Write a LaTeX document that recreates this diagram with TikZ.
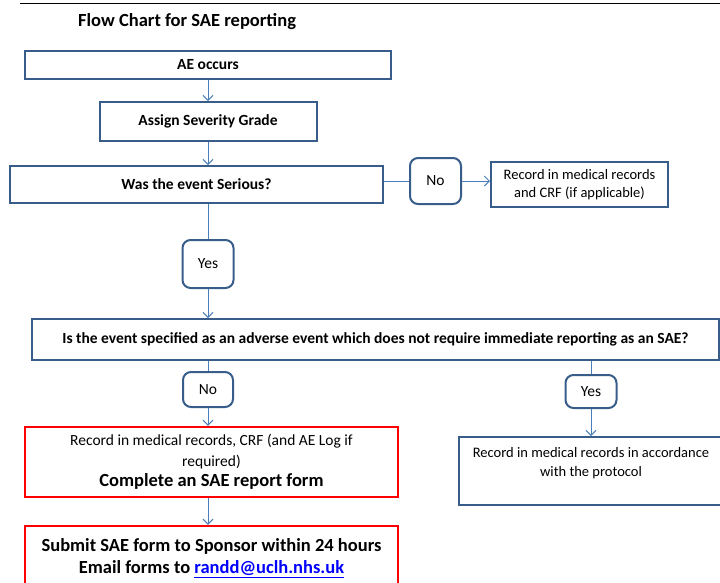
\documentclass[tikz,border=0pt]{standalone}
\usepackage{fontspec}
\setmainfont{Carlito}
\usepackage{tikz}
\usetikzlibrary{arrows.meta, positioning, calc}
\usepackage{xcolor}
\definecolor{boxblue}{RGB}{56,93,138}
\definecolor{lineblue}{RGB}{74,126,187}
\definecolor{alertred}{RGB}{255,0,0}
\definecolor{linkblue}{RGB}{0,0,255}

\begin{document}
\begin{tikzpicture}[x=1pt, y=-1pt,
  box/.style={draw=boxblue, line width=2pt, inner sep=0pt, align=center,
    font=\bfseries\fontsize{15.5}{18}\selectfont},
  plainbox/.style={box, font=\fontsize{14.5}{18.5}\selectfont},
  choice/.style={draw=boxblue, line width=2pt, rounded corners=8pt, inner sep=0pt,
    font=\fontsize{15.5}{18}\selectfont},
  redbox/.style={draw=alertred, line width=2.5pt, inner sep=0pt, align=center,
    font=\fontsize{15.5}{20.5}\selectfont},
  plain/.style={draw=lineblue, line width=1pt},
  flow/.style={plain, -{Straight Barb[length=5pt, width=10pt]}}]
  \useasboundingbox (0,0) rectangle (720,582);
  \draw[line width=1pt] (20,3) -- (720,3);
  \node[anchor=west, inner sep=0pt, font=\bfseries\fontsize{18.5}{22}\selectfont] (title) at (78,22)
    {Flow Chart for SAE reporting};
  % first steps
  \node[box, minimum width=366, minimum height=28] (ae) at (208,65) {AE occurs};
  \node[box, minimum width=217, minimum height=39] (grade) at (208,121.5) {Assign Severity Grade};
  \node[box, minimum width=373, minimum height=37] (serious) at (196.5,184.5) {Was the event Serious?};
  % not serious
  \node[choice, minimum width=51, minimum height=46] (no1) at (435.5,181) {No};
  \node[plainbox, minimum width=177, minimum height=45] (crf) at (579.5,184.5)
    {Record in medical records\\and CRF (if applicable)};
  % serious
  \node[choice, minimum width=51, minimum height=48] (yes1) at (208,264) {Yes};
  \node[box, minimum width=687, minimum height=41] (sae) at (375.5,339.5)
    {Is the event specified as an adverse event which does not require immediate reporting as an SAE?};
  \node[choice, minimum width=50, minimum height=35] (no2) at (208,389.5) {No};
  \node[choice, minimum width=51, minimum height=33] (yes2) at (591,391.5) {Yes};
  % report needed
  \node[redbox, minimum width=373, minimum height=70] (report) at (211.5,462)
    {Record in medical records, CRF (and AE Log if\\required)\\
     {\bfseries\fontsize{18.5}{20.5}\selectfont Complete an SAE report form}};
  \node[plainbox, minimum width=264, minimum height=68] (protocol) at (591,471)
    {Record in medical records in accordance\\with the protocol\\ \mbox{}};
  \node[redbox, font=\bfseries\fontsize{18.5}{22}\selectfont, minimum width=373, minimum height=64] (submit) at (211.5,558)
    {Submit SAE form to Sponsor within 24 hours\\Email forms to \textcolor{linkblue}{\underline{randd@uclh.nhs.uk}}};
  % connectors
  \draw[flow] (ae) -- (grade);
  \draw[flow] (grade.south) -- (grade.south |- serious.north);
  \draw[plain] (no1.west -| serious.east) -- (no1.west);
  \draw[flow] (no1.east) -- (no1.east -| crf.west);
  \draw[plain] (serious.south -| yes1.north) -- (yes1.north);
  \draw[flow] (yes1.south) -- (yes1.south |- sae.north);
  \draw[plain] (sae.south -| no2.north) -- (no2.north);
  \draw[plain] (sae.south -| yes2.north) -- (yes2.north);
  \draw[flow] (no2.south) -- (no2.south |- report.north);
  \draw[flow] (yes2.south) -- (yes2.south |- protocol.north);
  \draw[flow] (report.south -| no2.south) -- (submit.north -| no2.south);
\end{tikzpicture}
\end{document}
